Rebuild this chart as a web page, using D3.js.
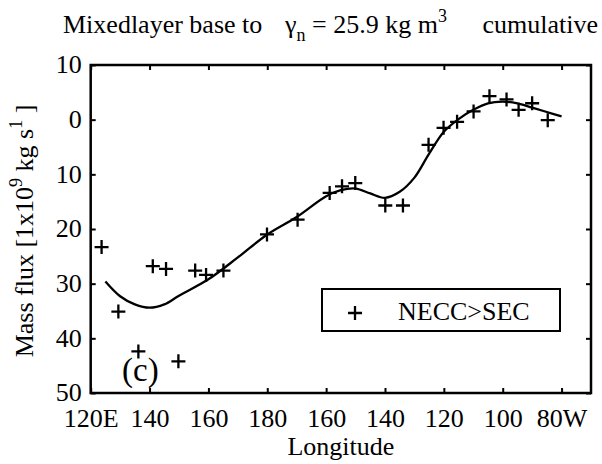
<!DOCTYPE html>
<html>
<head>
<meta charset="utf-8">
<script src="https://cdn.jsdelivr.net/npm/d3@7"></script>
<style>
  body { margin: 0; background: #fff; }
</style>
</head>
<body>
<div id="chart"></div>
<script>
// observed points (longitude in degrees east, 0-360) and flux values
var pointLon = [123.7, 129.4, 136.2, 141.1, 145.6, 149.8, 155.5, 159.2, 165.1, 179.9,
                190.3, 201.2, 205.4, 209.9, 220.1, 226.1, 234.8, 239.9, 244.5, 250.1,
                255.5, 261.3, 265.4, 270.0, 275.3];
var pointFlux = [-23.3, -35.1, -42.4, -26.8, -27.3, -44.2, -27.6, -28.4, -27.6, -21.0,
                 -18.3, -13.4, -12.2, -11.6, -15.7, -15.7, -4.6, -1.5, -0.4, 1.5,
                 4.3, 3.7, 1.8, 3.0, -0.1];

// smoothed curve
var curveLon = [125, 130, 135, 140, 145, 150, 160, 170, 180, 190, 200, 205, 210, 215,
                220, 225, 230, 235, 240, 245, 250, 255, 260, 265, 270, 275, 280];
var curveFlux = [-29.6, -32.3, -33.8, -34.4, -33.8, -32.2, -29.2, -25.2, -21.0, -17.8,
                 -14.0, -12.9, -12.6, -13.5, -14.3, -13.2, -10.6, -6.2, -2.2, 0.1,
                 1.8, 3.0, 3.3, 3.0, 2.2, 1.4, 0.6];

var xTicks = [120, 140, 160, 180, 200, 220, 240, 260, 280];
var xTickLabels = ["120E", "140", "160", "180", "160", "140", "120", "100", "80W"];
var yTicks = [10, 0, -10, -20, -30, -40, -50];

var FONT = "'Liberation Serif', 'DejaVu Serif', 'Noto Serif', serif";
var width = 602, height = 464;
var margins = {left: 90.7, right: 11, top: 65, bottom: 71};

var svg = d3.select("#chart").append("svg")
    .attr("width", width)
    .attr("height", height)
    .attr("font-family", FONT);

var x = d3.scaleLinear()
    .domain([120, 290])
    .range([margins.left, width - margins.right]);
var y = d3.scaleLinear()
    .domain([10, -50])
    .range([margins.top, height - margins.bottom]);

var x0 = x.range()[0], x1 = x.range()[1];
var y0 = y.range()[0], y1 = y.range()[1];

// axes with inward ticks on all four sides
var fmtX = function(d){ return xTickLabels[xTicks.indexOf(d)]; };
var gx = svg.append("g")
    .attr("transform", "translate(0," + y1 + ")")
    .call(d3.axisBottom(x).tickValues(xTicks).tickFormat(fmtX).tickSizeInner(-5).tickSizeOuter(0).tickPadding(16));
var gy = svg.append("g")
    .attr("transform", "translate(" + x0 + ",0)")
    .call(d3.axisLeft(y).tickValues(yTicks).tickFormat(function(d){ return Math.abs(d); })
        .tickSizeInner(-5).tickSizeOuter(0).tickPadding(9));
var gt = svg.append("g")
    .attr("transform", "translate(0," + y0 + ")")
    .call(d3.axisTop(x).tickValues(xTicks).tickFormat("").tickSizeInner(-5).tickSizeOuter(0));
var gr = svg.append("g")
    .attr("transform", "translate(" + x1 + ",0)")
    .call(d3.axisRight(y).tickValues(yTicks).tickFormat("").tickSizeInner(-5).tickSizeOuter(0));

svg.selectAll(".domain").remove();
svg.selectAll("g").attr("font-family", FONT);
svg.selectAll(".tick line").attr("stroke", "#000").attr("stroke-width", 2);
svg.selectAll(".tick text")
    .attr("font-size", 26)
    .attr("fill", "#000");
gy.selectAll(".tick text").attr("dy", "0.3em");

// frame
svg.append("rect")
    .attr("x", x0).attr("y", y0)
    .attr("width", x1 - x0).attr("height", y1 - y0)
    .attr("fill", "none").attr("stroke", "#000").attr("stroke-width", 2.5);

// curve
var line = d3.line()
    .x(function(d){ return x(d[0]); })
    .y(function(d){ return y(d[1]); })
    .curve(d3.curveCatmullRom);
svg.append("path")
    .datum(d3.zip(curveLon, curveFlux))
    .attr("d", line)
    .attr("fill", "none")
    .attr("stroke", "#000")
    .attr("stroke-width", 2.3);

// plus markers
var ps = 7;
function plusPath(cx, cy){
    return "M" + (cx - ps) + "," + cy + "H" + (cx + ps) + "M" + cx + "," + (cy - ps) + "V" + (cy + ps);
}
svg.selectAll(".pt")
    .data(d3.zip(pointLon, pointFlux))
    .enter().append("path")
    .attr("class", "pt")
    .attr("d", function(d){ return plusPath(x(d[0]), y(d[1])); })
    .attr("stroke", "#000")
    .attr("stroke-width", 2.3);

// legend
var lg = svg.append("g");
lg.append("rect")
    .attr("x", 322).attr("y", 289).attr("width", 238).attr("height", 42)
    .attr("fill", "#fff").attr("stroke", "#000").attr("stroke-width", 2);
lg.append("path")
    .attr("d", plusPath(355, 313))
    .attr("stroke", "#000").attr("stroke-width", 2.3);
lg.append("text")
    .attr("x", 398).attr("y", 320)
    .attr("font-size", 26)
    .text("NECC>SEC");

// panel label
svg.append("text")
    .attr("x", 122).attr("y", 381)
    .attr("font-size", 33)
    .text("(c)");

// title
var title = svg.append("text")
    .attr("x", 63).attr("y", 33)
    .attr("font-size", 26);
title.append("tspan").text("Mixedlayer base to");
title.append("tspan").attr("x", 285).text("γ");
title.append("tspan").attr("dy", 8).attr("font-size", 18).text("n");
title.append("tspan").attr("dy", -8).text(" = 25.9 kg m");
title.append("tspan").attr("dy", -11).attr("font-size", 18).text("3");
svg.append("text")
    .attr("x", 598).attr("y", 33)
    .attr("text-anchor", "end")
    .attr("font-size", 26)
    .text("cumulative");

// axis titles
svg.append("text")
    .attr("x", (x0 + x1) / 2).attr("y", 455)
    .attr("text-anchor", "middle")
    .attr("font-size", 26)
    .text("Longitude");

var yl = svg.append("text")
    .attr("transform", "translate(33,231) rotate(-90)")
    .attr("text-anchor", "middle")
    .attr("font-size", 26);
yl.append("tspan").text("Mass flux [1x10");
yl.append("tspan").attr("dy", -11).attr("font-size", 18).text("9");
yl.append("tspan").attr("dy", 11).text(" kg s");
yl.append("tspan").attr("dy", -11).attr("font-size", 18).text("1");
yl.append("tspan").attr("dy", 11).text(" ]");
</script>
</body>
</html>
